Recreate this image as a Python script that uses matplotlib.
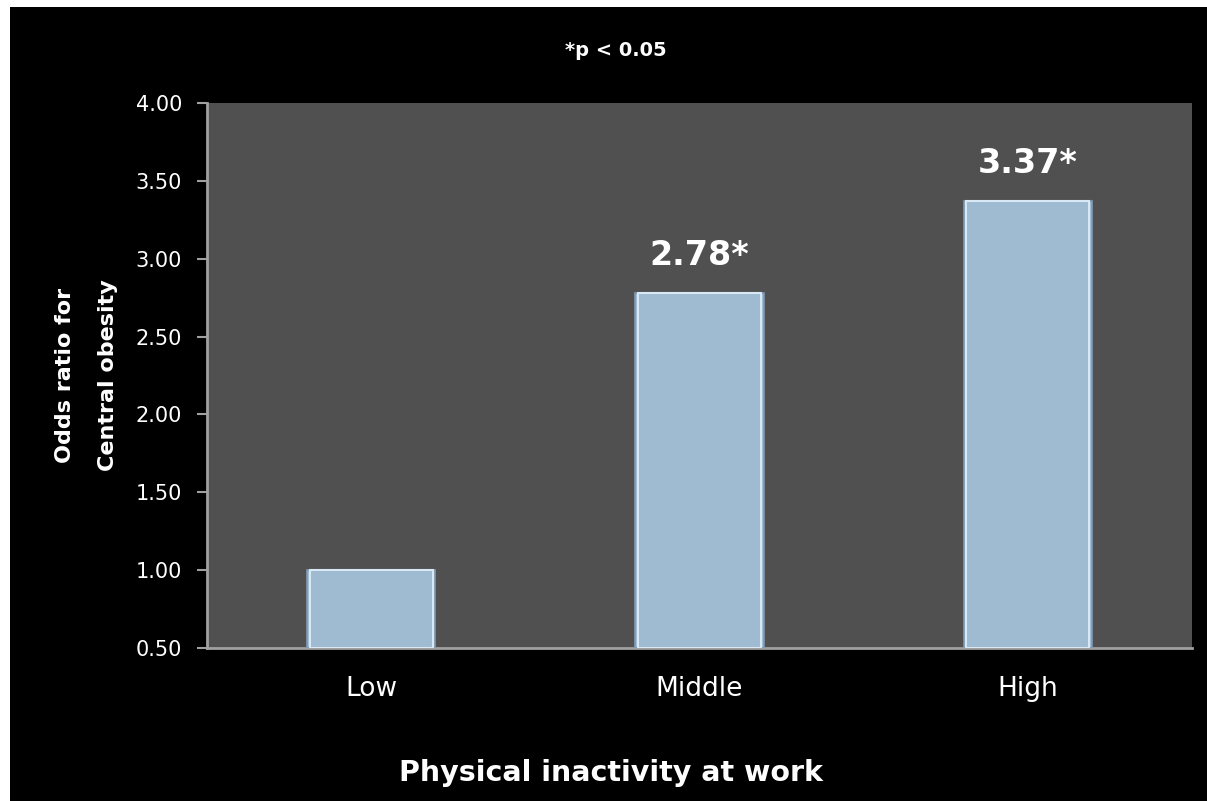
import matplotlib.pyplot as plt
from matplotlib.patches import Rectangle

CATEGORIES = ["Low", "Middle", "High"]
ODDS = [1.00, 2.78, 3.37]
LABELS = ["", "2.78", "3.37"]
YTICKS = [0.50, 1.00, 1.50, 2.00, 2.50, 3.00, 3.50, 4.00]

BAR = "#9ebbd2"
FONT = ["DejaVu Sans"]


def main():
    fig = plt.figure(figsize=(12.07, 8.01), dpi=100, facecolor="white")
    # black slide background with a thin white margin top/left
    fig.patches.append(Rectangle((10 / 1207, 0), 2, 1 - 7 / 801,
                                 transform=fig.transFigure,
                                 facecolor="black", edgecolor="none", zorder=-5))

    ax = fig.add_axes([207 / 1207, 153 / 801, 985 / 1207, 545 / 801])
    ax.set_facecolor("#505050")

    x = range(len(CATEGORIES))
    ax.bar(x, [v - 0.5 for v in ODDS], bottom=0.5, width=0.39,
           color=BAR, edgecolor="#7f9ab0", linewidth=1.2, zorder=3)
    # light inner rim for the bevelled look
    ax.bar(x, [v - 0.5 for v in ODDS], bottom=0.5, width=0.375,
           color="none", edgecolor="#d8e8f5", linewidth=1.5, zorder=4)

    for i, (v, lab) in enumerate(zip(ODDS, LABELS)):
        if lab:
            ax.annotate(lab + "*", (i, v), xytext=(0, 15),
                        textcoords="offset points", ha="center", va="bottom",
                        fontsize=24, fontweight="bold", color="white",
                        family=FONT)

    ax.set_xlim(-0.5, 2.5)
    ax.set_ylim(0.5, 4.0)
    ax.set_yticks(YTICKS)
    ax.set_yticklabels([f"{t:.2f}" for t in YTICKS], family=FONT,
                       fontsize=15, color="white")
    ax.set_xticks(list(x))
    ax.set_xticklabels(CATEGORIES, family=FONT, fontsize=19, color="white")
    ax.tick_params(axis="x", length=0, pad=20)
    ax.tick_params(axis="y", length=7, width=1.5, color="#a0a0a0",
                   direction="out", pad=11)

    for side in ("top", "right"):
        ax.spines[side].set_visible(False)
    for side in ("left", "bottom"):
        ax.spines[side].set_color("#a0a0a0")
        ax.spines[side].set_linewidth(2)

    ax.set_ylabel("Odds ratio for\nCentral obesity", family=FONT,
                  fontsize=16, fontweight="bold", color="white",
                  linespacing=2.4, labelpad=13)

    fig.text(611 / 1207, 1 - 773 / 801, "Physical inactivity at work",
             ha="center", va="center", fontsize=20.5, fontweight="bold",
             color="white", family=FONT)
    fig.text(616 / 1207, 1 - 50 / 801, "*p < 0.05", ha="center",
             va="center", fontsize=14, fontweight="bold", color="white",
             family=FONT)

    fig.savefig("out.png", dpi=100, facecolor=fig.get_facecolor())


if __name__ == "__main__":
    main()
